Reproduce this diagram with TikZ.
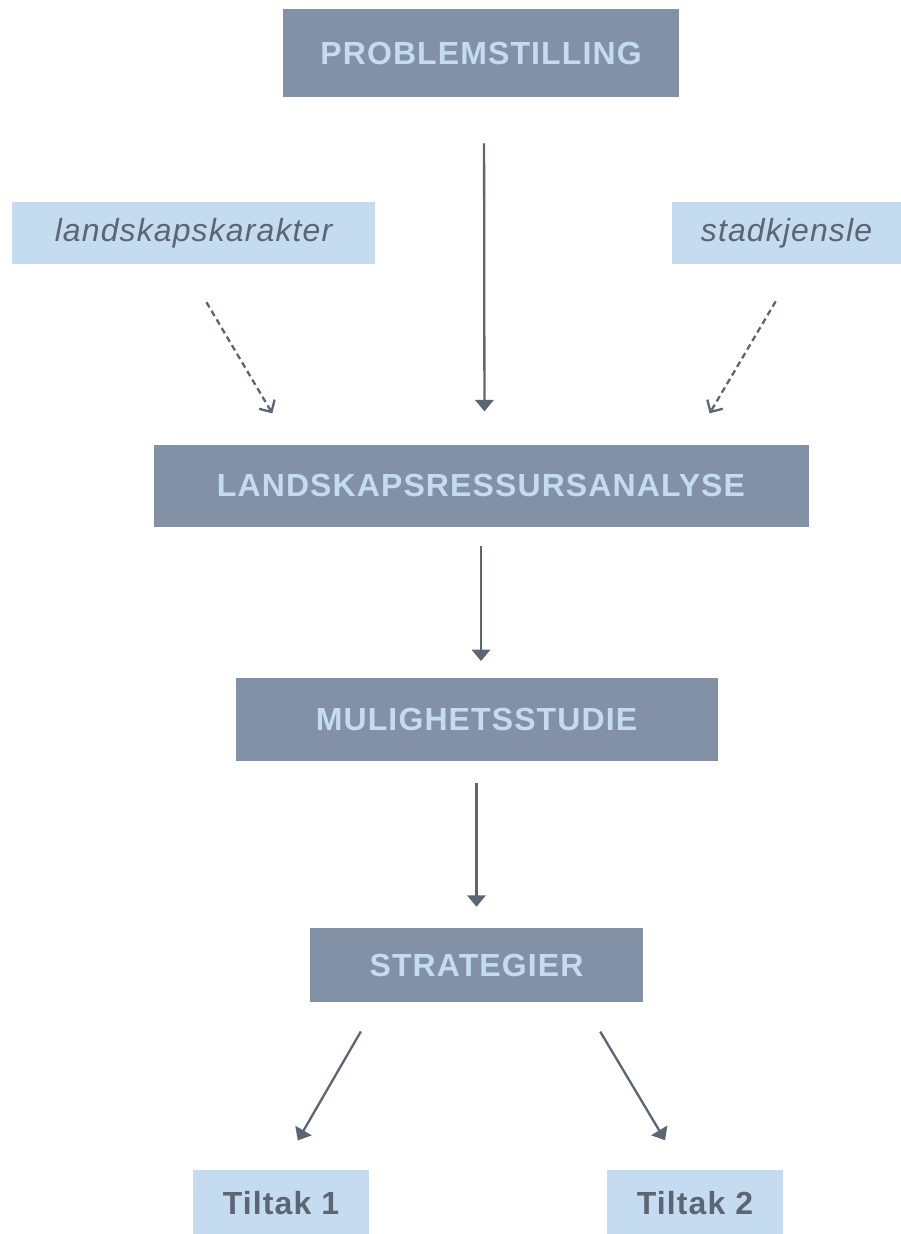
\documentclass[tikz,border=0pt]{standalone}
\usepackage{fontspec}
\setmainfont{Liberation Sans}[LetterSpace=3.5]
\usetikzlibrary{arrows.meta,positioning,calc}
\definecolor{stepslate}{HTML}{8391A7}
\definecolor{stepsky}{HTML}{C5DBF0}
\definecolor{stepink}{HTML}{5B6573}
\tikzset{
  mainbox/.style={rectangle,fill=stepslate,text=stepsky,align=center,inner sep=0pt,
    font=\fontsize{18.2}{21}\selectfont\bfseries},
  sidebox/.style={rectangle,fill=stepsky,text=stepink,align=center,inner sep=0pt,
    minimum width=7.24cm,minimum height=1.24cm,font=\fontsize{18.2}{21}\selectfont\itshape},
  endbox/.style={rectangle,fill=stepsky,text=stepink,align=center,inner sep=0pt,
    minimum width=3.52cm,minimum height=1.32cm,font=\fontsize{18.2}{21}\selectfont\bfseries},
  flow/.style={-{Triangle[length=0.23cm,width=0.37cm]},line width=0.046cm,draw=stepink},
  hint/.style={-{Straight Barb[length=0.18cm,width=0.36cm]},line width=0.046cm,draw=stepink,
    dash pattern=on 0.12cm off 0.08cm}
}
\begin{document}
\begin{tikzpicture}
  \useasboundingbox (0,0) rectangle (18.02,-24.68);
  \node[mainbox,minimum width=7.92cm,minimum height=1.76cm] (prob) at (9.62,-1.06) {PROBLEMSTILLING};
  \node[mainbox,minimum width=13.1cm,minimum height=1.64cm,below=6.94cm of prob] (lra) {LANDSKAPSRESSURSANALYSE};
  \node[sidebox,above=3.6cm of lra,xshift=-5.75cm] (lk) {landskapskarakter};
  \node[sidebox,minimum width=4.6cm,above=3.6cm of lra,xshift=6.11cm] (sk) {stadkjensle};
  \node[mainbox,minimum width=9.64cm,minimum height=1.66cm,below=3.02cm of lra,xshift=-0.09cm] (mul) {MULIGHETSSTUDIE};
  \node[mainbox,minimum width=6.66cm,minimum height=1.48cm,below=3.32cm of mul] (str) {STRATEGIER};
  \node[endbox,below=3.34cm of str,xshift=-3.91cm] (t1) {Tiltak 1};
  \node[endbox,below=3.34cm of str,xshift=4.37cm] (t2) {Tiltak 2};
  % connectors stop short of the boxes
  \draw[flow,shorten <=0.92cm,shorten >=0.66cm] ($(prob.south)+(0.06,0)$) -- ($(lra.north)+(0.07,0)$);
  \draw[hint,shorten <=0.88cm,shorten >=0.72cm] ($(lk.south)+(-0.19,0)$) -- ($(lra.north west)+(2.75,0)$);
  \draw[hint,shorten <=0.86cm,shorten >=0.72cm] ($(sk.south)+(0.22,0)$) -- ($(lra.north east)+(-2.35,0)$);
  \draw[flow,shorten <=0.38cm,shorten >=0.34cm] (lra.south) -- (lra.south |- mul.north);
  \draw[flow,shorten <=0.42cm,shorten >=0.42cm] (mul.south) -- (str.north);
  \draw[flow,shorten <=0.67cm,shorten >=0.67cm] ($(str.south west)+(1.36,0)$) -- (t1.north);
  \draw[flow,shorten <=0.68cm,shorten >=0.68cm] ($(str.south east)+(-1.21,0)$) -- ($(t2.north)+(-0.25,0)$);
\end{tikzpicture}
\end{document}
